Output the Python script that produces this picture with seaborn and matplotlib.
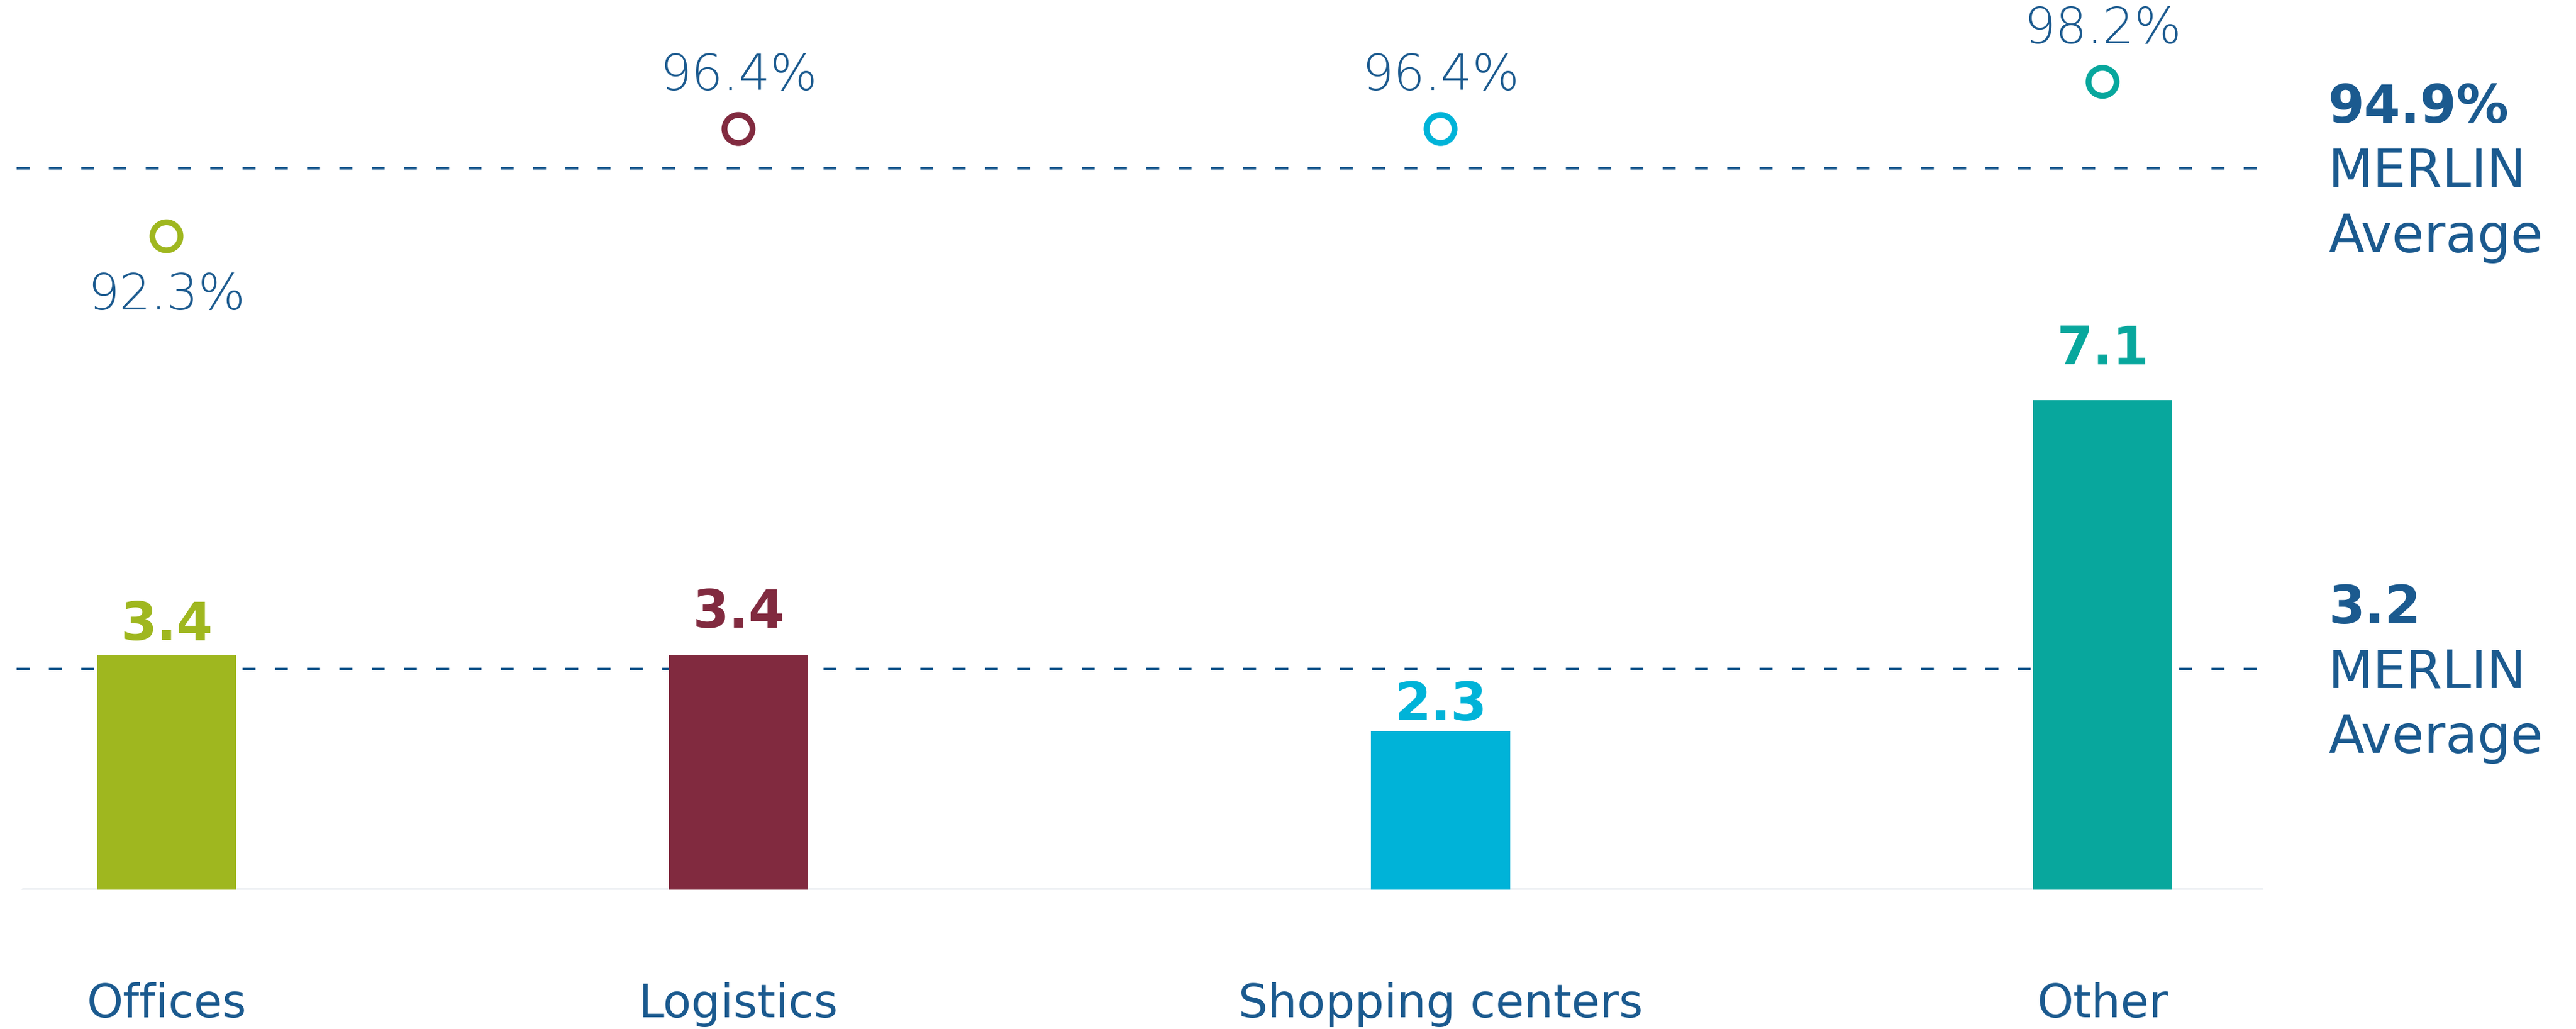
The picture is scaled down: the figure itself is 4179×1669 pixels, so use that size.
import numpy as np
import pandas as pd
import matplotlib
matplotlib.use("Agg")
import matplotlib.pyplot as plt
import seaborn as sns

# ---------------- data ----------------
categories = ["Offices", "Logistics", "Shopping centers", "Other"]
bar_values = [3.4, 3.4, 2.3, 7.1]
bar_labels = ["3.4", "3.4", "2.3", "7.1"]
occupancy = [92.3, 96.4, 96.4, 98.2]
occ_labels = ["92.3%", "96.4%", "96.4%", "98.2%"]
bar_average = 3.2
bar_average_label = "3.2"
occupancy_average = 94.9
occupancy_average_label = "94.9%"
average_text = ["MERLIN", "Average"]

# ---------------- layout / style ----------------
slot = [0.0, 1.0, 2.2274, 3.3847]          # horizontal slots of the groups
colors = ["#9fb71f", "#812a3f", "#00b3d8", "#08a79d"]
NAVY = "#1b5a8f"
BASE = "#dfe3ea"
value_pad_pt = [18, 32, 13, 42]            # bar label gap above bar
occ_side = ["below", "above", "above", "above"]
PX = 100 / 72.0                            # pixels per point at dpi=100

sns.set_theme(style="white")
plt.rcParams["font.family"] = ["DejaVu Sans"]

W, H = 4179, 1669
fig = plt.figure(figsize=(W / 100, H / 100), dpi=100)
ax_left, ax_right, ax_bottom_px = 27, 3672, 1443
ax = fig.add_axes([ax_left / W, (H - ax_bottom_px) / H,
                   (ax_right - ax_left) / W, ax_bottom_px / H])

df_bars = pd.DataFrame({"pos": slot, "value": bar_values, "cat": categories})
palette = dict(zip(categories, colors))

ax.axhline(0, color=BASE, lw=3.8, zorder=2, xmin=10 / 3645)
ax.axhline(bar_average, color=NAVY, lw=2.9, dashes=(5.2, 7.8), zorder=1)

sns.barplot(data=df_bars, x="pos", y="value", hue="cat", palette=palette,
            native_scale=True, dodge=False, width=0.2425, errorbar=None,
            saturation=1, linewidth=0, legend=False, ax=ax, zorder=3)

ax.set_ylim(0, 1443 / 111.8)
ax.set_xlim(-0.2619, 3.666)

for i, (v, lab) in enumerate(zip(bar_values, bar_labels)):
    ax.annotate(lab, xy=(slot[i], v), xytext=(0, value_pad_pt[i]),
                textcoords="offset points", ha="center", va="baseline",
                fontsize=61, fontweight="bold", color=colors[i], zorder=5)

# secondary axis for occupancy (linear scale fitted to the layout)
ax2 = ax.twinx()
top_val = 95.45 + 249.5 / 42.44
bot_val = 95.45 - (1443 - 249.5) / 42.44
ax2.set_ylim(bot_val, top_val)
ax2.axhline(occupancy_average, color=NAVY, lw=2.9, dashes=(5.2, 7.8), zorder=1)

df_occ = pd.DataFrame({"pos": slot, "occ": occupancy, "cat": categories})
sns.scatterplot(data=df_occ, x="pos", y="occ", hue="cat", palette=palette,
                s=1075, linewidth=6.8, legend=False, ax=ax2, zorder=4)
coll = ax2.collections[0]
coll.set_edgecolors(coll.get_facecolors())
coll.set_facecolors("white")

for i, (v, lab) in enumerate(zip(occupancy, occ_labels)):
    dy = 45.4 if occ_side[i] == "above" else -85.7
    ax2.annotate(lab, xy=(slot[i], v), xytext=(0, dy),
                 textcoords="offset points", ha="center", va="baseline",
                 fontsize=58, fontweight="light", color=NAVY,
                 annotation_clip=False)

ax2.set_xlim(-0.2619, 3.666)

# right-hand average annotations
xr = (3777 - ax_left) / (ax_right - ax_left)
for axis, yv, head in [(ax2, occupancy_average, occupancy_average_label),
                       (ax, bar_average, bar_average_label)]:
    tr = axis.get_yaxis_transform()
    axis.annotate(head, xy=(xr, yv), xycoords=tr, xytext=(0, 53.3),
                  textcoords="offset points", ha="left", va="baseline",
                  fontsize=61, fontweight="bold", color=NAVY,
                  annotation_clip=False)
    for txt, dy in zip(average_text, (-22.3, -97.9)):
        axis.annotate(txt, xy=(xr, yv), xycoords=tr, xytext=(0, dy),
                      textcoords="offset points", ha="left", va="baseline",
                      fontsize=61, color=NAVY, annotation_clip=False)

# axes cosmetics
ax.set_xticks(slot)
ax.set_xticklabels(categories, fontsize=54, color=NAVY)
for lbl in ax.get_xticklabels():
    lbl.set_va("baseline")
ax.tick_params(axis="x", length=0, pad=207 / PX)
ax.set_yticks([])
ax2.set_yticks([])
ax.set_xlabel("")
ax.set_ylabel("")
ax2.set_xlabel("")
ax2.set_ylabel("")
for a in (ax, ax2):
    for sp in a.spines.values():
        sp.set_visible(False)

fig.savefig("out.png", dpi=100)
